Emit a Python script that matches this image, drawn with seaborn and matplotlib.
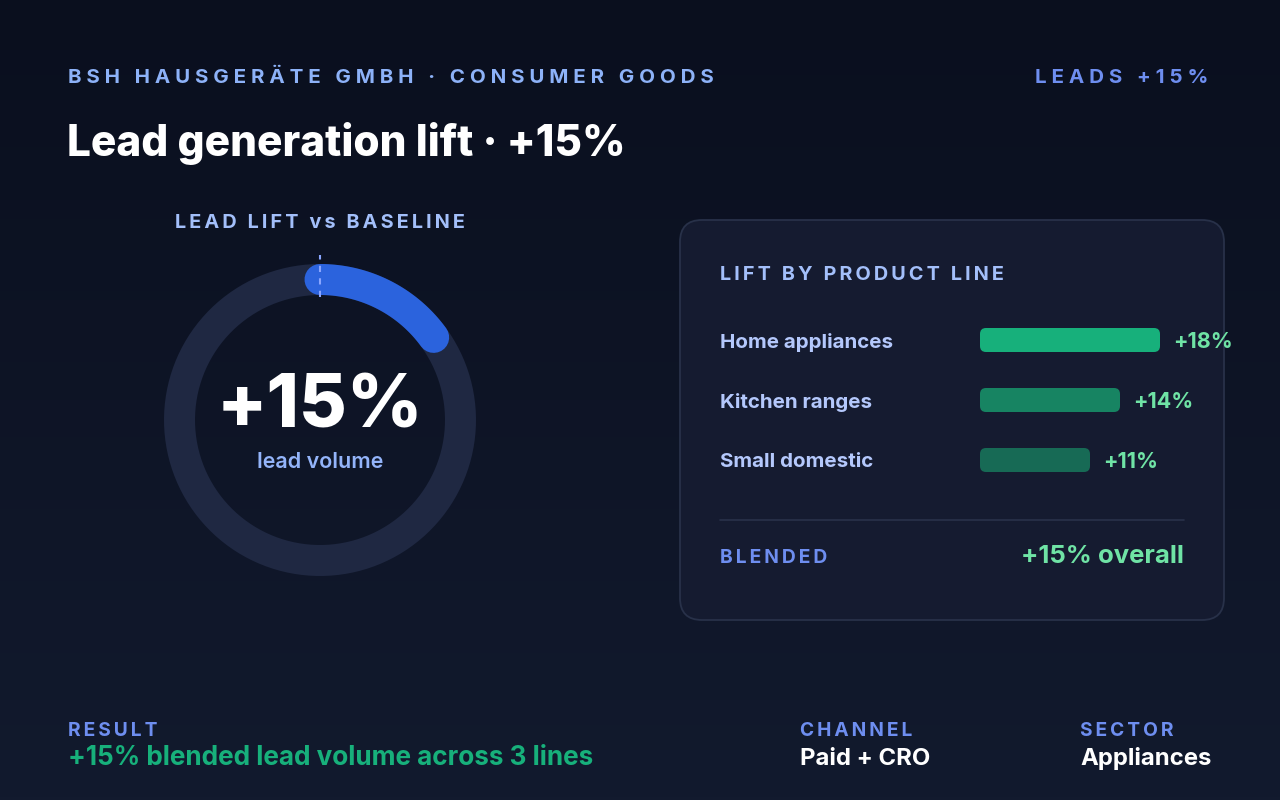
import numpy as np
import matplotlib.pyplot as plt
from matplotlib.patches import FancyBboxPatch
from matplotlib.colors import LinearSegmentedColormap
import seaborn as sns

sns.set_theme(style="white")
plt.rcParams['font.family'] = ['Inter', 'DejaVu Sans']

# data
lines = ["Home appliances", "Kitchen ranges", "Small domestic"]
lift = [18, 14, 11]
bar_colors = ["#17b07b", "#178462", "#176a55"]
blended = 15
company = "BSH HAUSGERÄTE GMBH · CONSUMER GOODS"
badge = "LEADS +15%"
title = "Lead generation lift · +15%"
footer_labels = ["RESULT", "CHANNEL", "SECTOR"]
footer_values = ["+15% blended lead volume across 3 lines", "Paid + CRO", "Appliances"]

W, H = 1280, 800
LABEL_BLUE = "#6e8ef0"
SOFT_BLUE = "#a3bffa"
GREEN_TXT = "#6fe3a5"


def tracked(s, gap="\u2009"):
    # fake letter-spacing with thin spaces
    return gap.join(s)


WIDE = "\u2009\u200a"

fig = plt.figure(figsize=(12.8, 8), dpi=100)

# background + pixel-space overlay
bg = fig.add_axes([0, 0, 1, 1])
bg.set_xlim(0, W)
bg.set_ylim(H, 0)
bg.axis('off')
grad = np.linspace(0, 1, 256)[:, None]
bg.imshow(grad, extent=[0, W, H, 0], aspect='auto',
          cmap=LinearSegmentedColormap.from_list('bg', ['#0a0f1e', '#121a2e']))

# card
bg.add_patch(FancyBboxPatch((680, 220), 544, 400, boxstyle="round,pad=0,rounding_size=22",
                            fc="#151b30", ec="#283149", lw=1.3))
bg.plot([720, 1184], [520, 520], color="#29314a", lw=1.2)

# header
bg.text(68, 83, tracked(company, WIDE), color="#8db2f8", fontsize=14.8, fontweight='bold',
        va='baseline')
bg.text(1208, 83, tracked(badge, WIDE), color=LABEL_BLUE, fontsize=14.8, fontweight='bold',
        va='baseline', ha='right')
bg.text(67, 156, title, color="white", fontsize=30.5, fontweight='heavy', va='baseline')

# gauge
bg.text(320, 228, tracked("LEAD LIFT vs BASELINE"), color=SOFT_BLUE, fontsize=14.3,
        fontweight='bold', va='baseline', ha='center')
R = 170
gax = fig.add_axes([(320 - R) / W, 1 - (420 + R) / H, 2 * R / W, 2 * R / H], projection='polar')
gax.set_theta_zero_location('N')
gax.set_theta_direction(-1)
gax.set_ylim(0, 1)
gax.axis('off')
ring_r = 140.5 / R
ring_w = 31 * 0.72
theta = np.linspace(0, 2 * np.pi, 400)
gax.plot(theta, np.full_like(theta, ring_r), color="#1f2842", lw=ring_w, solid_capstyle='butt')
arc = np.linspace(0, 2 * np.pi * blended / 100, 100)
gax.plot(arc, np.full_like(arc, ring_r), color="#2b63dd", lw=ring_w, solid_capstyle='round')
gax.plot([0, 0], [(420 - 297) / R, (420 - 255) / R], color="#8aa6ff", lw=1.5, ls=(0, (3, 3)))

bg.text(320, 428, f"+{blended}%", color="white", fontsize=53, fontweight='heavy',
        va='baseline', ha='center')
bg.text(320, 468, "lead volume", color="#93b4fa", fontsize=15.5, fontweight='semibold',
        va='baseline', ha='center')

# product line bars
bg.text(720, 280, tracked("LIFT BY PRODUCT LINE"), color=SOFT_BLUE, fontsize=14.3,
        fontweight='bold', va='baseline')
bax = fig.add_axes([980 / W, 1 - 490 / H, 250 / W, 180 / H])
sns.barplot(x=lift, y=lines, hue=lines, palette=bar_colors, orient='h', width=0.4,
            saturation=1, ax=bax, legend=False)
bax.set_xlim(0, 25)
bax.set_ylim(2.5, -0.5)
for p in list(bax.patches):
    x0, y0, w, h = p.get_x(), p.get_y(), p.get_width(), p.get_height()
    fc = p.get_facecolor()
    p.remove()
    bax.add_patch(FancyBboxPatch((x0, y0), w, h, boxstyle="round,pad=0,rounding_size=0.6",
                                 mutation_aspect=1 / 6, fc=fc, ec='none'))
for i, v in enumerate(lift):
    bax.text(v + 1.3, i, f"+{v}%", color=GREEN_TXT, fontsize=15.5, fontweight='bold',
             va='center_baseline', ha='left')
bax.set_yticks(range(len(lines)))
bax.set_yticklabels(lines)
bax.tick_params(axis='y', length=0, pad=187.2, labelsize=14.8, labelcolor="#b4c8fc")
for lab in bax.get_yticklabels():
    lab.set_ha('left')
    lab.set_fontweight('bold')
bax.set_xticks([])
bax.set_xlabel('')
bax.set_ylabel('')
bax.patch.set_alpha(0)
sns.despine(ax=bax, left=True, bottom=True)

bg.text(720, 563, tracked("BLENDED"), color=LABEL_BLUE, fontsize=13.8, fontweight='bold',
        va='baseline')
bg.text(1184, 563, f"+{blended}% overall", color=GREEN_TXT, fontsize=18.5, fontweight='bold',
        va='baseline', ha='right')

# footer
footer_x = [68, 800, 1080]
footer_colors = ["#17b07b", "white", "white"]
footer_sizes = [18.8, 17.2, 17.2]
for x, lab, val, c, fs in zip(footer_x, footer_labels, footer_values, footer_colors, footer_sizes):
    bg.text(x, 736, tracked(lab), color=LABEL_BLUE, fontsize=13.8, fontweight='bold', va='baseline')
    bg.text(x, 765, val, color=c, fontsize=fs, fontweight='bold', va='baseline')

fig.savefig("out.png", dpi=100)
